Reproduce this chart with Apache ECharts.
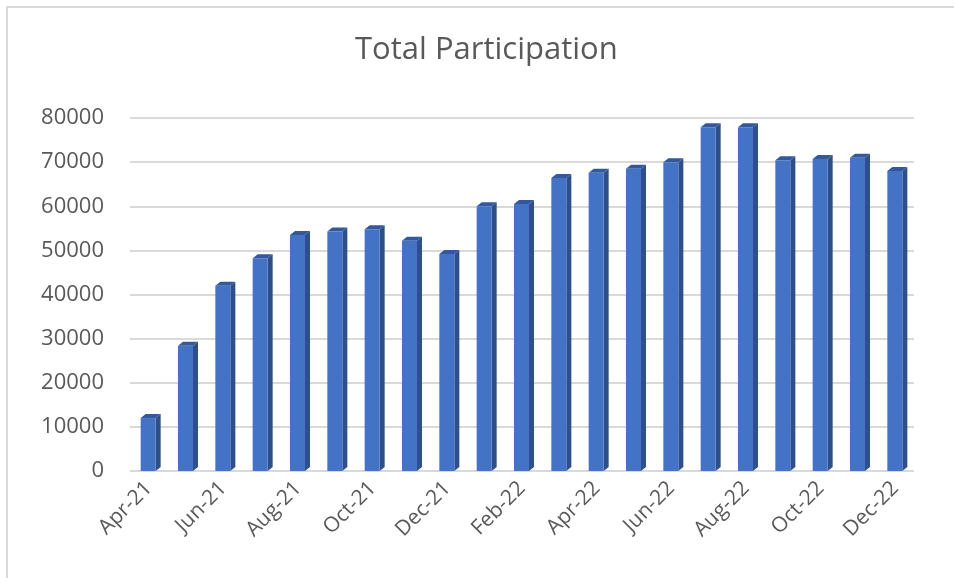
<!DOCTYPE html>
<html>
<head>
<meta charset="utf-8">
<script src="https://cdn.jsdelivr.net/npm/echarts@6/dist/echarts.min.js"></script>
<style>
  html, body { margin: 0; padding: 0; background: #fff; }
  #chart { width: 954px; height: 578px; }
</style>
</head>
<body>
<div id="chart"></div>
<script>
// months Apr-21 .. Dec-22
var months = ['Apr-21', 'May-21', 'Jun-21', 'Jul-21', 'Aug-21', 'Sep-21', 'Oct-21',
  'Nov-21', 'Dec-21', 'Jan-22', 'Feb-22', 'Mar-22', 'Apr-22', 'May-22',
  'Jun-22', 'Jul-22', 'Aug-22', 'Sep-22', 'Oct-22', 'Nov-22', 'Dec-22']
var participation = [12000, 28400, 42000, 48200, 53500, 54300, 54800,
  52200, 49200, 60000, 60500, 66400, 67600, 68500,
  70000, 77900, 77900, 70400, 70700, 71000, 68000]
var yTicks = [0, 10000, 20000, 30000, 40000, 50000, 60000, 70000, 80000]

var chartDom = echarts.init(document.getElementById('chart'))

// fake 3d column: front face + side + top cap
function renderBar(params, api) {
  var base = api.coord([api.value(0), 0])
  var top = api.coord([api.value(0), api.value(1)])
  var w = 15, d = 5, dy = 4
  var x = top[0] - 8
  return {
    type: 'group',
    children: [
      {
        type: 'polygon',
        shape: { points: [[x + w, top[1]], [x + w + d, top[1] - dy], [x + w + d, base[1] - dy], [x + w, base[1]]] },
        style: { fill: '#2f4f87' }
      },
      {
        type: 'polygon',
        shape: { points: [[x, top[1]], [x + d, top[1] - dy], [x + w + d, top[1] - dy], [x + w, top[1]]] },
        style: { fill: '#34589a' }
      },
      {
        type: 'rect',
        shape: { x: x, y: top[1], width: w, height: base[1] - top[1] },
        style: { fill: '#4472c4' }
      }
    ]
  }
}

chartDom.setOption({
  animation: false,
  textStyle: { fontFamily: 'Open Sans' },
  title: {
    text: 'Total Participation',
    left: 350,
    top: 30,
    textStyle: { color: '#595959', fontSize: 31, fontWeight: 'normal', fontFamily: 'Open Sans' }
  },
  graphic: [{
    type: 'rect',
    shape: { x: 7, y: 7, width: 1000, height: 1000 },
    style: { fill: 'none', stroke: '#d9d9d9', lineWidth: 2 },
    silent: true
  }],
  grid: {
    left: 130,
    right: 40,
    top: 118,
    bottom: 107
  },
  xAxis: {
    type: 'category',
    data: months,
    boundaryGap: true,
    axisLine: { show: false },
    axisTick: { show: false },
    axisLabel: {
      interval: 1,
      rotate: 45,
      color: '#595959',
      fontSize: 21,
      margin: 14
    }
  },
  yAxis: {
    type: 'value',
    min: 0,
    max: 80000,
    interval: 10000,
    axisLine: { show: false },
    axisTick: { show: false },
    axisLabel: {
      color: '#595959',
      fontSize: 22,
      margin: 26,
      formatter: function (v) {
        return yTicks.indexOf(v) >= 0 ? String(v) : ''
      }
    },
    splitLine: { lineStyle: { color: '#d9d9d9', width: 2 } }
  },
  series: [{
    name: 'Total Participation',
    type: 'custom',
    renderItem: renderBar,
    encode: { x: 0, y: 1 },
    data: participation.map(function (v, i) { return [i, v] })
  }]
})
window.addEventListener('resize', function () {
  chartDom.resize()
})
</script>
</body>
</html>
